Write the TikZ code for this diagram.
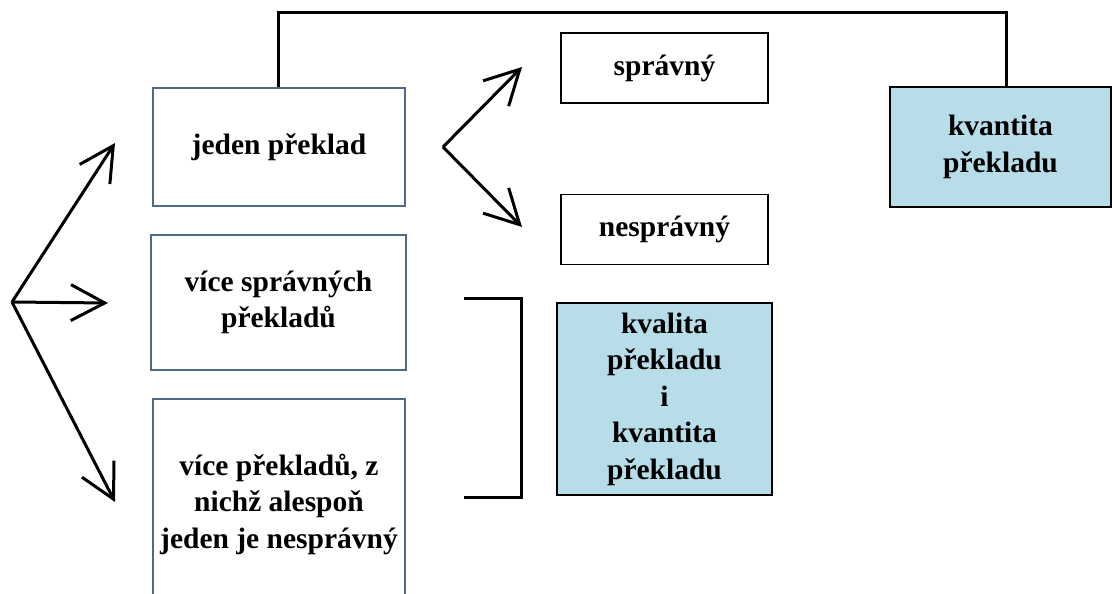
\documentclass[tikz,border=0pt]{standalone}
\usepackage{fontspec}
\setmainfont{Liberation Serif}
\usetikzlibrary{arrows.meta}
\definecolor{boxedge}{HTML}{4F6A86}
\definecolor{boxfill}{HTML}{B7DDE8}
\begin{document}
\begin{tikzpicture}[x=1pt,y=-1pt,
  every node/.style={font=\fontsize{29.5}{36.5}\selectfont\bfseries, align=center, inner sep=0pt},
  optbox/.style={draw=boxedge, line width=1.5pt, minimum width=#1},
  ansbox/.style={draw=black, line width=1.3pt, minimum width=207pt, minimum height=70pt},
  resbox/.style={draw=black, line width=1.5pt, fill=boxfill},
  link/.style={line width=3pt},
  arr/.style={line width=3pt, -{Straight Barb[length=34pt, width=36pt, line width=3pt]}}]
\useasboundingbox (0,0) rectangle (1112,594);
\clip (0,0) rectangle (1112,594);

% left column: three ways of translating
\node[optbox=252pt, minimum height=118pt] (one) at (279,147) {jeden překlad};
\node[optbox=255pt, minimum height=135pt] (many) at (278.5,302.5) {více správných\\překladů};
\node[optbox=252pt, minimum height=210pt] (mixed) at (279,504) {více překladů, z\\nichž alespoň\\jeden je nesprávný};

% correct / incorrect
\node[ansbox] (ok) at (664.5,68) {správný};
\node[ansbox] (bad) at (664.5,229.5) {nesprávný};

% evaluation boxes
\node[resbox, minimum width=215pt, minimum height=192pt] (qq) at (664.5,399) {kvalita\\překladu\\i\\kvantita\\překladu};
\node[resbox, minimum width=221pt, minimum height=120pt] (qn) at (1000.5,147) {kvantita\\překladu};

% fan of arrows from the left
\coordinate (src) at (12,302);
\draw[arr] (src) -- (115,143);
\draw[arr] (src) -- (108,303);
\draw[arr] (src) -- (115,502);

% fan of arrows to correct / incorrect
\coordinate (fork) at (443,147);
\draw[arr] (fork) -- (522,67);
\draw[arr] (fork) -- (522,227);

% link from the single translation to quantity
\draw[link] (one.north -| 278,0) |- (1006,13) -- (qn.north -| 1006,0);

% bracket grouping the multi-translation cases
\draw[link] (464,298) -- (521,298) -- (521,497) -- (464,497);
\end{tikzpicture}
\end{document}
